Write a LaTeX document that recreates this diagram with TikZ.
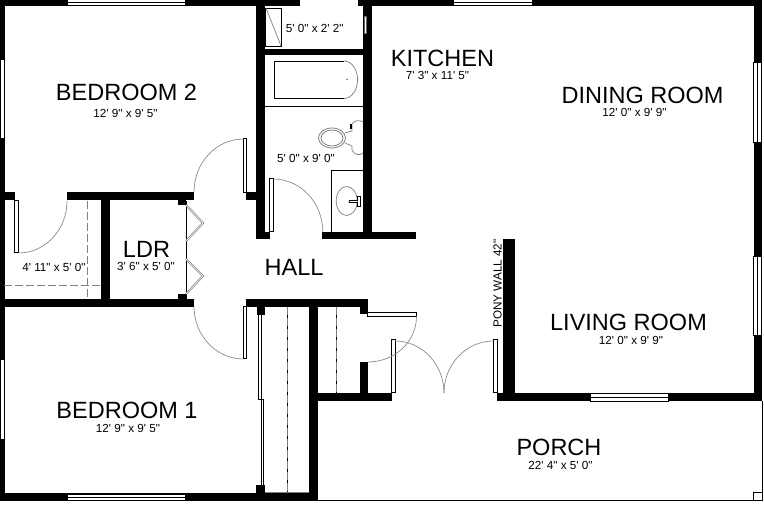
\documentclass[tikz,border=0pt]{standalone}
\usepackage{fontspec}
\newfontfamily\lib{Liberation Sans}
\tikzset{
 wall/.style={fill=black,draw=none},
 win/.style={fill=white,draw=black,line width=1pt},
 panel/.style={fill=white,draw=black,line width=1pt},
 swing/.style={draw=black!45,line width=0.7pt},
 fine/.style={draw=black,line width=0.9pt},
 fix/.style={draw=black!50,line width=0.7pt},
 dashline/.style={draw=black!50,line width=0.8pt,dash pattern=on 8pt off 3pt},
 bigtxt/.style={anchor=base,inner sep=0,font=\lib\fontsize{23.5}{24}\selectfont},
 smalltxt/.style={anchor=base,inner sep=0,font=\lib\fontsize{11.7}{12}\selectfont},
}
\newcommand{\wl}[4]{\fill[wall] (#1,#2) rectangle (#3,#4);}
\begin{document}
\begin{tikzpicture}[x=1pt,y=-1pt]
\useasboundingbox (0,0) rectangle (764,505);
\fill[white] (0,0) rectangle (764,505);
% top wall
\wl{0}{0}{300}{6}\wl{358}{0}{762}{6}
% left wall
\wl{0}{0}{5}{500}\wl{0}{192}{15}{200.5}
% bedroom 2 lower wall
\wl{67}{192}{194}{200.5}\wl{101}{200}{110}{300}\wl{0}{299}{194}{307}
% hall stubs
\wl{246}{192}{265}{200.5}\wl{256}{232}{270}{239.5}\wl{322}{232}{416}{239.5}
% bath walls
\wl{256}{0}{265}{239}\wl{363}{0}{372}{239}\wl{265}{49}{363}{55}
% lower
\wl{246}{299}{368}{307}\wl{309}{299}{318}{500}\wl{0}{493}{318}{500.5}
\wl{309}{393}{392}{401.5}\wl{360}{362}{368}{393}\wl{360}{305}{368}{314}
\wl{257}{306}{265}{315}\wl{256}{485}{265}{494}
% pony wall and right side
\wl{503}{239}{515}{400}\wl{497}{393}{762}{401.5}\wl{753.5}{0}{762}{400}
% horizontal windows
\foreach \a/\b/\y/\h in {67/185/0/3,453/532/0/3,67/185/494.5/3,590/668/394/3.7}{
  \path[win] (\a,\y) rectangle (\b,\y+\h);
  \path[win] (\a,\y+\h) rectangle (\b,\y+\h+\h);
}
% right windows
\foreach \a/\b in {63/143,257/336}{
  \path[win] (753.5,\a) rectangle (757.8,\b);
  \path[win] (757.8,\a) rectangle (761.8,\b);
}
% left windows
\fill[white] (0.8,60) rectangle (4,138);
\fill[white] (0.8,360) rectangle (4,439);
% porch
\draw[fine] (318,500.2) -- (762,500.2) -- (762,401);
\draw[fine] (753,500) rectangle (762,492);
% door panels
\path[panel] (14.5,200.5) rectangle (18.5,253);
\path[panel] (243.3,139) rectangle (246.7,192.5);
\path[panel] (243.3,306.5) rectangle (246.7,359);
\path[panel] (269.3,179) rectangle (273.3,232);
\path[panel] (367.5,313) rectangle (416.5,316.5);
\path[panel] (391.7,340) rectangle (395,393);
\path[panel] (493.5,340) rectangle (497.5,393);
% door swings (y axis points down: angle 90 is screen-down)
\draw[swing] (18.5,253) arc[start angle=90,end angle=0,x radius=48.5,y radius=52];
\draw[swing] (243.5,139) arc[start angle=-90,end angle=-180,x radius=49.5,y radius=53];
\draw[swing] (243.5,359) arc[start angle=90,end angle=180,x radius=49.5,y radius=52.5];
\draw[swing] (273.3,179) arc[start angle=-90,end angle=0,x radius=49.5,y radius=53];
\draw[swing] (416.5,316.5) arc[start angle=0,end angle=90,x radius=48.5,y radius=45.5];
\draw[swing] (395,341) arc[start angle=-90,end angle=0,x radius=49,y radius=52];
\draw[swing] (493.5,341) arc[start angle=-90,end angle=-180,x radius=49.5,y radius=52];
% closet dashed
\draw[dashline] (87.5,201) -- (87.5,299);
\draw[dashline] (4,285) -- (101,285);
\draw[fine,line width=.7pt] (287,307) -- (287,493);
\draw[dashline] (287.4,307) -- (287.4,493);
\draw[fine,line width=.7pt] (336,307) -- (336,393);
\draw[dashline] (336.4,307) -- (336.4,393);
\draw[fix] (265,492.6) -- (309,492.6);
% LDR bifold
\draw[fine] (186,201) -- (186,299);
\fill[wall] (178,200) rectangle (186,205);
\fill[wall] (178,294) rectangle (186,299);
\draw[fix,line width=2pt] (186,205) -- (203,223) -- (186,241);
\draw[white,line width=.6pt] (186,205) -- (203,223) -- (186,241);
\draw[fix,line width=2pt] (186,259) -- (203,276) -- (186,294);
\draw[white,line width=.6pt] (186,259) -- (203,276) -- (186,294);
% sliding closet
\path[panel] (258.5,315) rectangle (261,400);
\path[panel] (261,400) rectangle (263,485);
% shower
\draw[fine] (265,8) rectangle (281.5,46.5);
\draw[fix] (266,8) -- (281,46);
\path[fill=white,draw=black!60,line width=.5pt] (364.5,16) rectangle (366,33);
% tub
\draw[fine] (344,61) -- (274,61) -- (274,98.5) -- (344,98.5);
\draw[fix] (344,61) arc[start angle=-90,end angle=90,x radius=13.6,y radius=18.75];
\fill[black!50] (347,79.5) circle (1pt);
\draw[fine] (265,106.5) -- (363,106.5);
% toilet
\draw[fix,line width=.8pt] (332,138) ellipse (13.5 and 10);
\draw[fix,line width=.8pt] (332,138) ellipse (11 and 8);
\draw[fix] (345,133) -- (352,131) -- (352,124) .. controls (354,120) and (360,120) .. (363,122);
\draw[fix] (345,143) -- (352,146) -- (352,150) .. controls (354,155) and (360,156) .. (363,153);
\fill[wall] (350,124) rectangle (352,129);
% vanity
\draw[fine] (331.7,232) -- (331.7,170) -- (363,170);
\draw[fix] (346.7,201) ellipse (10.5 and 14.5);
\fill[black!50] (349,201.5) circle (1pt);
\draw[fine,line width=.7pt] (349,200.5) -- (357.5,200.5) -- (357.5,196.5) -- (360,196.5) -- (360,206.5) -- (357.5,206.5) -- (357.5,202.5) -- (349,202.5);
% texts
\node[bigtxt] (b2) at (126.5,101) {BEDROOM 2};
\node[smalltxt] (b2d) at (125.5,117.7) {12' 9" x 9' 5"};
\node[bigtxt] (b1) at (127,418.7) {BEDROOM 1};
\node[smalltxt] (b1d) at (128,432.7) {12' 9" x 9' 5"};
\node[bigtxt] (kit) at (442.5,66.7) {KITCHEN};
\node[smalltxt] (kitd) at (437.5,80) {7' 3" x 11' 5"};
\node[bigtxt] (din) at (642.5,104) {DINING ROOM};
\node[smalltxt] (dind) at (634.5,116.5) {12' 0" x 9' 9"};
\node[bigtxt] (liv) at (628.5,331) {LIVING ROOM};
\node[smalltxt] (livd) at (631,345) {12' 0" x 9' 9"};
\node[bigtxt] (por) at (559,455) {PORCH};
\node[smalltxt] (pord) at (560.5,469) {22' 4" x 5' 0"};
\node[bigtxt] (hall) at (294,275.5) {HALL};
\node[bigtxt] (ldr) at (146.5,257.3) {LDR};
\node[smalltxt] (ldrd) at (146,271) {3' 6" x 5' 0"};
\node[smalltxt] (cl) at (54,271.7) {4' 11" x 5' 0"};
\node[smalltxt] (sh) at (314.7,32.7) {5' 0" x 2' 2"};
\node[smalltxt] (ba) at (306,162.7) {5' 0" x 9' 0"};
\node[smalltxt,rotate=90] (pw) at (501.5,283.5) {PONY WALL 42"};
\end{tikzpicture}
\end{document}
